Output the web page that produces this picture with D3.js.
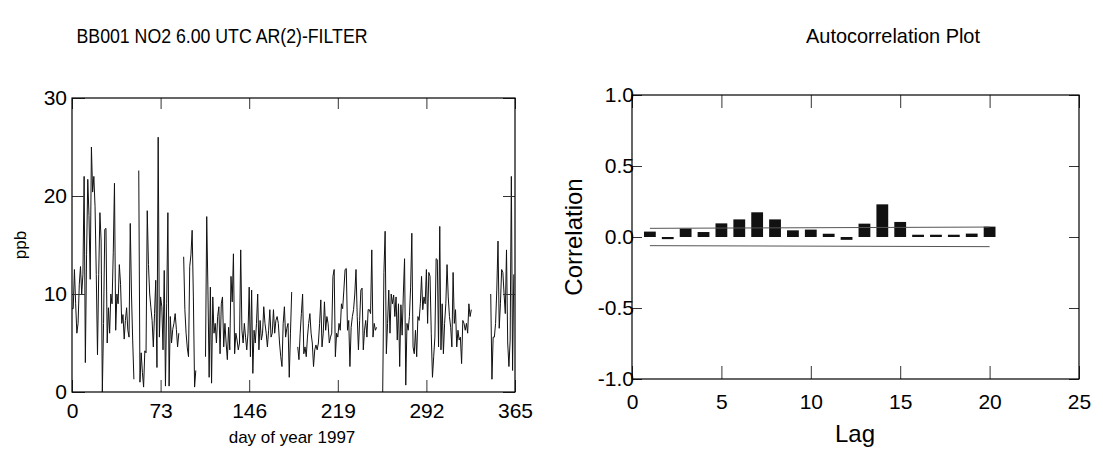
<!DOCTYPE html>
<html>
<head>
<meta charset="utf-8">
<script src="https://cdn.jsdelivr.net/npm/d3@7"></script>
<style>
  body { margin: 0; background: #fff; }
  text { font-family: "Liberation Sans", Arial, sans-serif; fill: #000; }
</style>
</head>
<body>
<svg id="chart" width="1103" height="450"></svg>
<script>
// NO2 at 6.00 UTC after AR(2) filter, one value per day (null = missing)
var ppb = [
  8.5, 8.5, 12.5, 9, 6, 7, 11, 12.8, 10, 12,            // 0
  22, 3, 14, 21.7, 18, 11.5, 25, 20.4, 22, 18.9,        // 10
  12, 3.8, 12, 18.3, 15.4, 0, 7, 16.6, 16.7, 5,         // 20
  8.6, 6, 10, 9, 14.2, 21.3, 6.3, 10, 9, 13,            // 30
  11, 7, 7.9, 5.4, 7.3, 8.6, 6.3, 5.6, 17.2, 10,        // 40
  5.3, 1.3, null, null, null, 22.6, 1, 4, 2, 0.5,       // 50
  4.2, 4, 18.5, 13, 10, 8.6, 7.3, 4.6, 8, 11.4,         // 60
  2.5, 26, 5.6, 9.7, 8.7, 4.3, 12.4, 0.6, 9, 18.3,      // 70
  0.6, 7.7, 5, 6.4, 7, 8, 6.4, 4.6, 6, null,            // 80
  null, null, 13.8, 8.4, 6, 4.5, 3.6, 12.8, 14, 16.5,   // 90
  9.7, 0.5, 2.2, null, null, null, null, null, null, null, // 100
  3.6, 17.9, 10.4, 1.5, 10.7, 0.9, 9.7, 6, 7, 5,        // 110
  7.7, 8.7, 3.9, 9, 9.7, 4.6, 7, 5, 3.3, 6.6,           // 120
  4.3, 11.8, 9.2, 14.1, 3.9, 6, 5.3, 4.3, 5, 14.5,      // 130
  6.3, 5, 7, 5.6, 4.3, 6, 10.7, 3.6, 10.4, 1.9,         // 140
  6.3, 5, 7, 10, 4.3, 7.3, 5.3, 6, 8.7, 7,              // 150
  6, 4.6, 6.3, 8.4, 5.6, 6, 8.4, 6, 7.3, 7.7,           // 160
  7, 5, 3.6, 2.6, 7, 8.7, 5.6, 6.5, 7, 1.5,             // 170
  6, 10.2, null, null, null, null, 4.6, 3.3, 6, 8,      // 180
  10, 3.9, 4.6, 3.6, 5.6, 7, 8, 6, 5, 2.6,              // 190
  4.3, 4.8, 4.3, 5, 7, 9.4, 4.6, 6, 9.2, 6.3,           // 200
  7.7, 7, 5, 5.6, 6, 11.8, 12.5, 3.6, 6, 5.6,           // 210
  7, 6.3, 9, 8.5, 10.4, 12.5, 12.6, 6.3, 7.3, 2.6,      // 220
  6.6, 7.7, 8.4, 10, 12.5, 7.7, 4.3, 7.3, 10.4, 10.6,   // 230
  4.3, 6.3, 7.3, 5.6, 8.4, 8.4, 8, 14.5, 5.6, 7,        // 240
  6.3, 6.6, null, null, null, null, 0, 12.2, 16.4, 3.9, // 250
  7, 10.4, 6, 10, 9, 9.9, 7.7, 9.7, 5.3, 9,             // 260
  2.6, 8.9, 5.8, 10, 13.6, 0.7, 7, 6.3, 7.7, 10.7,      // 270
  16.2, 4.6, 3.9, 6.3, 3.6, 7.7, 7.3, 9, 11.8, 8.4,     // 280
  9.7, 9, 12.5, 7, 12.2, 11.8, 6, 1.5, 3.6, 5.6,        // 290
  13.6, 13.5, 4.6, 16.9, 4.3, 9, 3.9, 7, 9, 13,         // 300
  9.7, 7.7, 6.6, 4.6, 12.2, 7, 8.4, 4.6, 6.3, 5.3,      // 310
  5.6, 2.9, 7.3, 7, 6.3, 7, 6, 9, 7.7, 8.4,             // 320
  null, null, null, null, null, null, null, null, null, null, // 330
  null, null, null, null, null, 10, 1.3, 5.6, 5.6, 7,   // 340
  10.4, 15.4, 6.5, 9, 12.5, 12.2, 10, 8, 14.5, 5,       // 350
  2.6, 5.3, 22, 2.2, 12                                 // 360
];
var dayTicks = [0, 73, 146, 219, 292, 365];
var ppbTicks = [0, 10, 20, 30];

// autocorrelation
var lags = [1, 2, 3, 4, 5, 6, 7, 8, 9, 10, 11, 12, 13, 14, 15, 16, 17, 18, 19, 20];
var acf = [0.038, -0.015, 0.06, 0.035, 0.096, 0.124, 0.174, 0.124, 0.047, 0.052,
           0.023, -0.02, 0.094, 0.23, 0.106, 0.016, 0.016, 0.016, 0.024, 0.073];
var bandLags = [1, 20];
var bandUpper = [0.061, 0.070];
var bandLower = [-0.061, -0.068];
var lagTicks = [0, 5, 10, 15, 20, 25];
var corrTicks = [-1, -0.5, 0, 0.5, 1];

var svg = d3.select("#chart");

function styleAxis(g, size) {
    g.select(".domain").remove();
    g.selectAll(".tick line").attr("stroke", "#333").attr("stroke-width", 1);
    g.selectAll(".tick text").attr("font-size", size).attr("fill", "#000")
        .attr("font-family", "'Liberation Sans', Arial, sans-serif");
}

// ---- left panel: time series
var x1 = d3.scaleLinear().domain([0, 365]).range([72, 515]);
var y1 = d3.scaleLinear().domain([0, 30]).range([392, 98]);

svg.append("path")
    .datum(ppb)
    .attr("fill", "none")
    .attr("stroke", "#111")
    .attr("stroke-width", 1)
    .attr("d", d3.line()
        .defined(function(d) { return d != null; })
        .x(function(d, i) { return x1(i); })
        .y(function(d) { return y1(d); }));

svg.append("g").attr("transform", "translate(0,392)")
    .call(d3.axisBottom(x1).tickValues(dayTicks).tickSizeInner(-12).tickSizeOuter(0).tickPadding(11))
    .call(styleAxis, 21);
svg.append("g").attr("transform", "translate(0,98)")
    .call(d3.axisTop(x1).tickValues(dayTicks).tickSizeInner(-11).tickSizeOuter(0).tickFormat(""))
    .call(styleAxis, 21);
svg.append("g").attr("transform", "translate(72,0)")
    .call(d3.axisLeft(y1).tickValues(ppbTicks).tickSizeInner(-13).tickSizeOuter(0).tickPadding(5))
    .call(styleAxis, 21);
svg.append("g").attr("transform", "translate(515,0)")
    .call(d3.axisRight(y1).tickValues(ppbTicks).tickSizeInner(-12).tickSizeOuter(0).tickFormat(""))
    .call(styleAxis, 21);

svg.append("rect")
    .attr("x", x1(0)).attr("y", y1(30))
    .attr("width", x1(365) - x1(0)).attr("height", y1(0) - y1(30))
    .attr("fill", "none").attr("stroke", "#000").attr("stroke-width", 1.2);

svg.append("text").attr("x", 222).attr("y", 43).attr("text-anchor", "middle")
    .attr("font-size", 20).attr("textLength", 291).attr("lengthAdjust", "spacingAndGlyphs")
    .text("BB001 NO2 6.00 UTC AR(2)-FILTER");
svg.append("text").attr("x", 292).attr("y", 443).attr("text-anchor", "middle")
    .attr("font-size", 17).text("day of year 1997");
svg.append("text").attr("transform", "translate(26,245) rotate(-90)")
    .attr("text-anchor", "middle").attr("font-size", 17).text("ppb");

// ---- right panel: autocorrelation
var x2 = d3.scaleLinear().domain([0, 25]).range([632, 1079]);
var y2 = d3.scaleLinear().domain([-1, 1]).range([379, 95]);

svg.selectAll(".bar")
    .data(lags)
    .enter().append("rect")
    .attr("class", "bar")
    .attr("fill", "#111")
    .attr("x", function(d) { return x2(d - 0.33); })
    .attr("width", x2(0.66) - x2(0))
    .attr("y", function(d, i) { return y2(Math.max(0, acf[i])); })
    .attr("height", function(d, i) { return Math.max(2, Math.abs(y2(acf[i]) - y2(0))); });

var band = d3.line()
    .x(function(d, i) { return x2(bandLags[i]); })
    .y(function(d) { return y2(d); });
svg.append("path").datum(bandUpper).attr("d", band)
    .attr("fill", "none").attr("stroke", "#555").attr("stroke-width", 1);
svg.append("path").datum(bandLower).attr("d", band)
    .attr("fill", "none").attr("stroke", "#555").attr("stroke-width", 1);

var fmt = function(d) { return d.toFixed(1); };
svg.append("g").attr("transform", "translate(0,379)")
    .call(d3.axisBottom(x2).tickValues(lagTicks).tickSizeInner(-13).tickSizeOuter(0).tickPadding(15))
    .call(styleAxis, 21);
svg.append("g").attr("transform", "translate(0,95)")
    .call(d3.axisTop(x2).tickValues(lagTicks).tickSizeInner(-13).tickSizeOuter(0).tickFormat(""))
    .call(styleAxis, 21);
svg.append("g").attr("transform", "translate(632,0)")
    .call(d3.axisLeft(y2).tickValues(corrTicks).tickSizeInner(-10).tickSizeOuter(0).tickPadding(-2).tickFormat(fmt))
    .call(styleAxis, 21);
svg.append("g").attr("transform", "translate(1079,0)")
    .call(d3.axisRight(y2).tickValues(corrTicks).tickSizeInner(-10).tickSizeOuter(0).tickFormat(""))
    .call(styleAxis, 21);

svg.append("rect")
    .attr("x", x2(0)).attr("y", y2(1))
    .attr("width", x2(25) - x2(0)).attr("height", y2(-1) - y2(1))
    .attr("fill", "none").attr("stroke", "#000").attr("stroke-width", 1.2);

svg.append("text").attr("x", 893).attr("y", 43).attr("text-anchor", "middle")
    .attr("font-size", 21).attr("textLength", 174).attr("lengthAdjust", "spacingAndGlyphs")
    .text("Autocorrelation Plot");
svg.append("text").attr("x", 855).attr("y", 442).attr("text-anchor", "middle")
    .attr("font-size", 24).text("Lag");
svg.append("text").attr("transform", "translate(582,237) rotate(-90)")
    .attr("text-anchor", "middle").attr("font-size", 24).text("Correlation");
</script>
</body>
</html>
